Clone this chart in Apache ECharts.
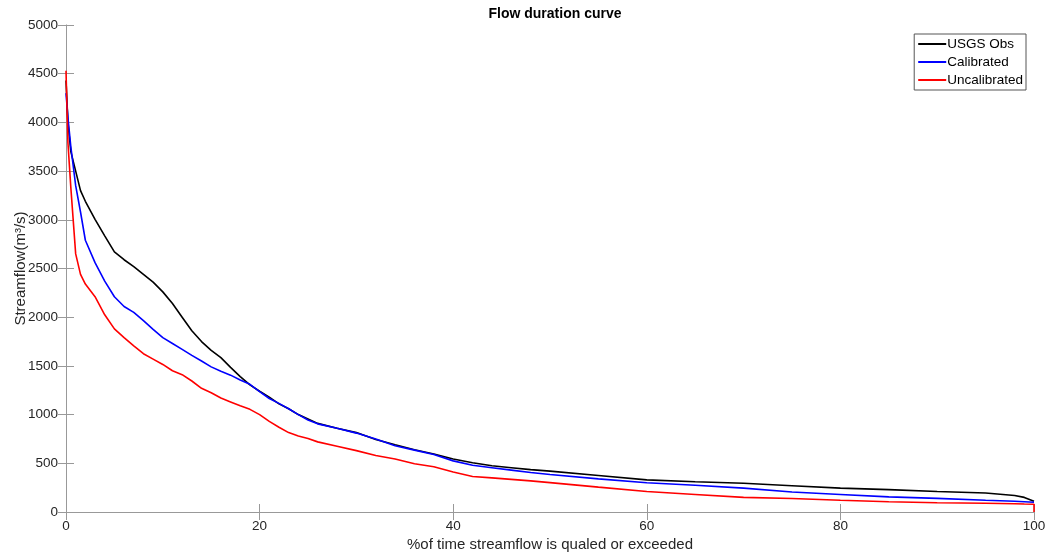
<!DOCTYPE html>
<html>
<head>
<meta charset="utf-8">
<title>Flow duration curve</title>
<script src="https://cdn.jsdelivr.net/npm/echarts@6/dist/echarts.min.js"></script>
<style>
  html, body { margin: 0; padding: 0; background: #fff; }
  .fdc { width: 1047px; height: 555px; }
</style>
</head>
<body>
<div class="fdc"></div>
<script>
// % of time streamflow is equalled or exceeded
var pctExceeded = [0, 0.2, 0.5, 1, 1.5, 2, 3, 4, 5, 6, 7, 8, 9, 10, 11, 12, 13, 14, 15, 16, 17, 18, 19, 20,
  21, 22, 23, 24, 25, 26, 28, 30, 32, 34, 36, 38, 40, 42, 44, 46, 48, 50, 55, 60, 65, 70, 75, 80, 85, 90, 95, 98, 99, 100];
// streamflow (m3/s)
var usgsObs = [4430, 4000, 3700, 3500, 3300, 3190, 3005, 2835, 2670, 2590, 2520, 2440, 2360, 2260, 2140, 2000, 1860, 1750, 1660, 1585, 1485, 1390, 1305, 1240,
  1180, 1110, 1060, 1000, 955, 910, 860, 815, 745, 690, 640, 595, 545, 505, 475, 455, 435, 420, 375, 330, 310, 295, 270, 245, 230, 210, 195, 170, 150, 110];
var calibrated = [4300, 4050, 3750, 3350, 3080, 2790, 2560, 2370, 2210, 2110, 2050, 1965, 1875, 1790, 1730, 1670, 1608, 1550, 1490, 1445, 1405, 1355, 1311, 1235,
  1165, 1115, 1060, 1000, 945, 905, 860, 810, 750, 680, 635, 590, 525, 480, 455, 430, 405, 385, 340, 300, 275, 245, 205, 180, 155, 140, 120, 110, 105, 100];
var uncalibrated = [4530, 3790, 3330, 2650, 2440, 2340, 2210, 2025, 1880, 1790, 1705, 1625, 1570, 1515, 1450, 1410, 1345, 1270, 1225, 1170, 1130, 1090, 1054, 1000,
  930, 870, 815, 780, 755, 720, 675, 630, 580, 545, 495, 465, 410, 365, 350, 335, 320, 302, 255, 210, 180, 150, 138, 120, 105, 95, 90, 85, 82, 80];
// red curve drops to zero at the last step
var uncalibratedTail = [[100, 0]];

var yTicks = [0, 500, 1000, 1500, 2000, 2500, 3000, 3500, 4000, 4500, 5000];
var xTicks = [0, 20, 40, 60, 80, 100];

function pairs(xs, ys) {
  return xs.map(function (x, i) { return [x, ys[i]]; });
}

(function () {
  var myChart = echarts.init(document.querySelector(".fdc"));
  var font = "Liberation Sans, Arial, sans-serif";
  var labelColor = "#262626";

  // shared style for the boxed MATLAB-like axes
  function boxAxis(extra) {
    var base = {
      axisTick: { show: true, inside: true, length: 8, lineStyle: { color: "#999" } },
      axisLine: { show: true, lineStyle: { color: "#cfcfcf", width: 1 } },
      splitLine: { show: false }
    };
    return Object.assign(base, extra);
  }

  var option = {
    animation: false,
    backgroundColor: "#fff",
    textStyle: { fontFamily: font },
    title: {
      text: "Flow duration curve",
      left: 550,
      textAlign: "center",
      top: 2,
      textStyle: { fontSize: 14, fontWeight: "bold", color: "#000", fontFamily: font }
    },
    legend: {
      orient: "vertical",
      right: 21,
      top: 34,
      padding: [3, 3, 3, 3],
      itemGap: 4,
      itemWidth: 28,
      itemHeight: 14,
      itemStyle: { opacity: 0 },
      backgroundColor: "#fff",
      borderColor: "#555",
      borderWidth: 1,
      borderRadius: 0,
      textStyle: { fontSize: 13.5, color: "#000", fontFamily: font, padding: [0, 0, 0, -4] },
      data: ["USGS Obs", "Calibrated", "Uncalibrated"]
    },
    grid: { left: 66, right: 13, top: 25, bottom: 43, containLabel: false, outerBoundsMode: "none" },
    xAxis: [
      boxAxis({
        type: "value",
        min: xTicks[0],
        max: xTicks[xTicks.length - 1],
        interval: 20,
        name: "%of time streamflow is qualed or exceeded",
        nameLocation: "middle",
        nameGap: 25,
        nameMoveOverlap: false,
        nameTextStyle: { fontSize: 15, color: labelColor, fontFamily: font },
        axisLabel: { color: labelColor, fontSize: 13.5, margin: 7, fontFamily: font }
      }),
      boxAxis({
        type: "value",
        position: "top",
        min: xTicks[0],
        max: xTicks[xTicks.length - 1],
        interval: 20,
        axisLine: { show: true, lineStyle: { color: "#999" } },
        axisLabel: { show: false }
      })
    ],
    yAxis: [
      boxAxis({
        type: "value",
        min: yTicks[0],
        max: yTicks[yTicks.length - 1],
        interval: 500,
        name: "Streamflow(m³/s)",
        nameLocation: "middle",
        nameGap: 38,
        nameMoveOverlap: false,
        nameTextStyle: { fontSize: 15, color: labelColor, fontFamily: font },
        axisLabel: {
          color: labelColor,
          fontSize: 13.5,
          margin: 8,
          fontFamily: font,
          formatter: function (v) { return String(v); }
        }
      }),
      boxAxis({
        type: "value",
        position: "right",
        min: yTicks[0],
        max: yTicks[yTicks.length - 1],
        interval: 500,
        axisLine: { show: true, lineStyle: { color: "#999" } },
        axisLabel: { show: false }
      })
    ],
    series: [
      {
        name: "USGS Obs",
        type: "line",
        symbol: "none",
        color: "#000000",
        lineStyle: { width: 1.6, color: "#000000" },
        data: pairs(pctExceeded, usgsObs),
        z: 3
      },
      {
        name: "Calibrated",
        type: "line",
        symbol: "none",
        color: "#0000ff",
        lineStyle: { width: 1.6, color: "#0000ff" },
        data: pairs(pctExceeded, calibrated),
        z: 4
      },
      {
        name: "Uncalibrated",
        type: "line",
        symbol: "none",
        color: "#ff0000",
        lineStyle: { width: 1.6, color: "#ff0000" },
        data: pairs(pctExceeded, uncalibrated).concat(uncalibratedTail),
        z: 5
      }
    ]
  };

  myChart.setOption(option);
  window.addEventListener("resize", function () {
    myChart.resize();
  });
})();
</script>
</body>
</html>
